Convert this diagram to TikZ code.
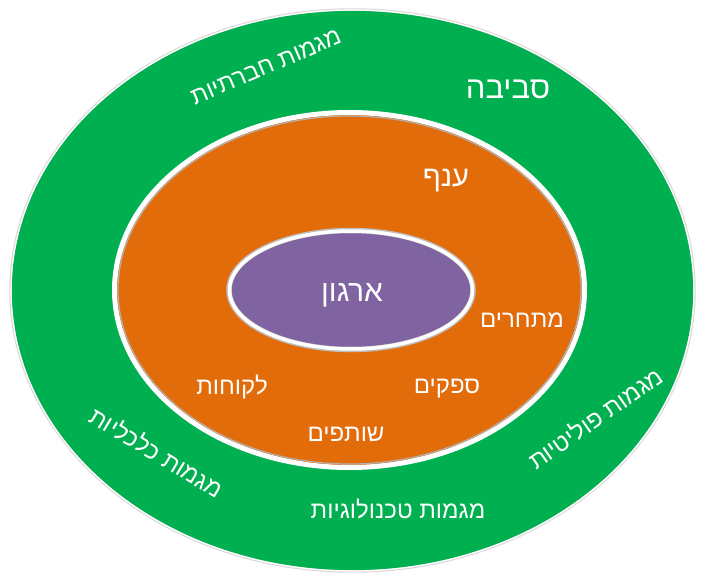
\documentclass[tikz,border=0pt]{standalone}
\usepackage{fontspec}
\setmainfont{Liberation Sans}
\newfontfamily\hebfont[Script=Hebrew]{Liberation Sans}
\TeXXeTstate=1
\usetikzlibrary{shapes.geometric}
\definecolor{envgreen}{RGB}{0,176,80}
\definecolor{branchorange}{RGB}{227,108,10}
\definecolor{orgpurple}{RGB}{128,100,162}
\newcommand{\heb}[1]{\beginR #1\endR}
\tikzset{
  ring/.style={ellipse, inner sep=0pt, outer sep=0pt},
  lbl/.style={text=white, inner sep=0pt, font=\hebfont\fontsize{#1}{#1}\selectfont},
  lbl/.default=24
}
\begin{document}
\begin{tikzpicture}[x=1pt, y=-1pt]
\useasboundingbox (0,0) rectangle (705,586);
% rings
\node[ring, fill=envgreen, draw=black!15, line width=2.5pt, minimum width=684pt, minimum height=562pt] (env) at (352.5,290.5) {};
\node[ring, draw=white, line width=1.2pt, minimum width=683pt, minimum height=561pt] (envedge) at (352.5,290.5) {};
\node[ring, fill=branchorange, draw=white, line width=5pt, minimum width=470pt, minimum height=355pt] (branch) at (349.5,290) {};
\node[ring, draw=black!30, line width=1.2pt, minimum width=463pt, minimum height=348pt] (branchedge) at (349.5,290) {};
\node[ring, fill=orgpurple, draw=black!25, line width=5.5pt, minimum width=244pt, minimum height=119pt] (org) at (351,290) {};
\node[ring, draw=white, line width=3.5pt, minimum width=243pt, minimum height=118pt] (orgedge) at (351,290) {};
% labels
\node[lbl=31, anchor=base] (envtxt) at (508,99) {\heb{סביבה}};
\node[lbl=29, anchor=base] (branchtxt) at (446,186) {\heb{ענף}};
\node[lbl=30, anchor=base] (orgtxt) at (352,301) {\heb{ארגון}};
\node[lbl, anchor=base] (rivals) at (522,327) {\heb{מתחרים}};
\node[lbl, anchor=base] (clients) at (232,394) {\heb{לקוחות}};
\node[lbl, anchor=base] (suppliers) at (447,393) {\heb{ספקים}};
\node[lbl, anchor=base] (partners) at (346,441) {\heb{שותפים}};
\node[lbl, anchor=base] (techtr) at (398,518) {\heb{מגמות טכנולוגיות}};
\node[lbl, rotate=23] (socialtr) at (266,67) {\heb{מגמות חברתיות}};
\node[lbl, rotate=-31] (econtr) at (157,452) {\heb{מגמות כלכליות}};
\node[lbl, rotate=35] (polittr) at (595,418) {\heb{מגמות פוליטיות}};
\end{tikzpicture}
\end{document}
